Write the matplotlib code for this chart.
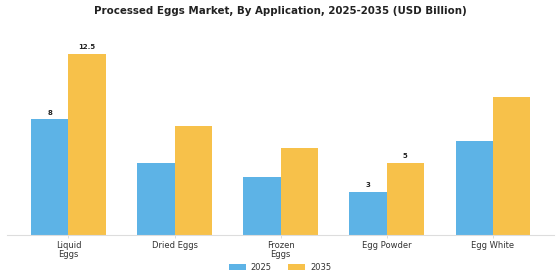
import matplotlib.pyplot as plt
import numpy as np

categories = ["Liquid\nEggs", "Dried Eggs", "Frozen\nEggs", "Egg Powder", "Egg White"]
values_2025 = [8.0, 5.0, 4.0, 3.0, 6.5]
values_2035 = [12.5, 7.5, 6.0, 5.0, 9.5]
labeled = [0, 3]  # categories whose bars carry value labels

blue = "#5DB3E6"
gold = "#F7C14A"

fig = plt.figure(figsize=(5.6, 2.8), dpi=100)
ax = fig.add_axes([0.0125, 0.16, 0.977, 0.715])

x = np.arange(len(categories))
w = 0.35
b1 = ax.bar(x - w / 2, values_2025, w, color=blue, label="2025")
b2 = ax.bar(x + w / 2, values_2035, w, color=gold, label="2035")

for i in labeled:
    ax.text(x[i] - w / 2, values_2025[i] + 0.25, f"{values_2025[i]:g}",
            ha="center", va="bottom", fontsize=5, fontweight="bold", color="#222222")
    ax.text(x[i] + w / 2, values_2035[i] + 0.25, f"{values_2035[i]:g}",
            ha="center", va="bottom", fontsize=5, fontweight="bold", color="#222222")

ax.set_xlim(-0.58, 4.58)
ax.set_ylim(0, 13.8)
ax.set_xticks(x)
ax.set_xticklabels(categories, fontsize=6, color="#333333", linespacing=1.0)
ax.tick_params(axis="x", length=2, width=0.5, color="#cccccc", pad=2)
ax.set_yticks([])
for s in ["top", "right", "left"]:
    ax.spines[s].set_visible(False)
ax.spines["bottom"].set_color("#dddddd")
ax.spines["bottom"].set_linewidth(0.8)

fig.suptitle("Processed Eggs Market, By Application, 2025-2035 (USD Billion)",
             fontsize=7.4, fontweight="bold", color="#222222", y=0.978)

fig.legend(handles=[b1, b2], loc="center", bbox_to_anchor=(0.5, 0.045), ncol=2,
           frameon=False, fontsize=6, handlelength=2.0, handleheight=0.6,
           columnspacing=2.0, handletextpad=0.6, labelcolor="#333333")

fig.savefig("out.png", dpi=100, facecolor="white")
